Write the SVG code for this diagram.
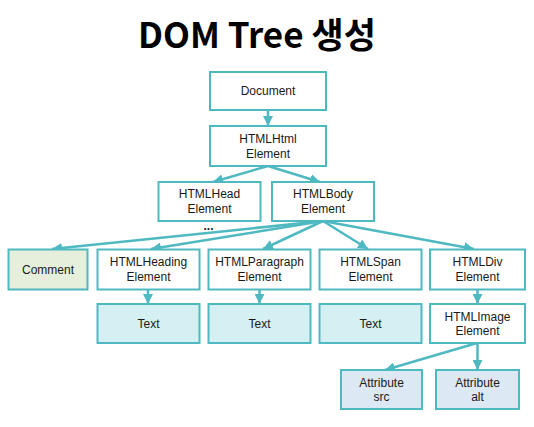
<svg xmlns="http://www.w3.org/2000/svg" width="534" height="427" viewBox="0 0 534 427">
<style>
.box{fill:#ffffff;stroke:#4fb9c1;stroke-width:2}
.cm{fill:#e6eedc}
.tx{fill:#d5f0f3}
.at{fill:#dde8f5}
.lbl{font-family:"Liberation Sans","Noto Sans CJK KR",sans-serif;font-size:12px;fill:#1a1a1a;text-anchor:middle}
.ttl{font-family:"Noto Sans CJK KR","Noto Sans",sans-serif;font-weight:bold;font-size:35px;fill:#000;text-anchor:middle}
.ln{stroke:#4fb9c1;stroke-width:2.5;fill:none;marker-end:url(#ah)}
</style>
<defs>
<marker id="ah" markerUnits="userSpaceOnUse" markerWidth="10" markerHeight="10" viewBox="0 0 10 10" refX="10" refY="5" orient="auto">
<path d="M0,0 L10,5 L0,10 z" fill="#4fb9c1"/>
</marker>
</defs>
<rect width="534" height="427" fill="#ffffff"/>
<text class="ttl" x="257" y="48">DOM Tree 생성</text>
<g id="connectors">
<line class="ln" x1="268" y1="110" x2="268" y2="126"/>
<line class="ln" x1="268" y1="166" x2="213" y2="182"/>
<line class="ln" x1="268" y1="166" x2="320" y2="182"/>
<line class="ln" x1="323" y1="221" x2="52" y2="249"/>
<line class="ln" x1="323" y1="221" x2="151" y2="249"/>
<line class="ln" x1="323" y1="221" x2="263" y2="249"/>
<line class="ln" x1="323" y1="221" x2="368" y2="249"/>
<line class="ln" x1="323" y1="221" x2="474" y2="249"/>
<line class="ln" x1="148" y1="289" x2="148" y2="304"/>
<line class="ln" x1="259.5" y1="289" x2="259.5" y2="304"/>
<line class="ln" x1="477.5" y1="289" x2="477.5" y2="304"/>
<line class="ln" x1="477" y1="343" x2="385" y2="370"/>
<line class="ln" x1="477.5" y1="343" x2="477.5" y2="370"/>
</g>
<g id="document"><rect class="box" x="210" y="72" width="116" height="38"/><text class="lbl" x="268" y="95">Document</text></g>
<g id="htmlhtml"><rect class="box" x="210" y="126" width="116" height="40"/><text class="lbl" x="268" y="143">HTMLHtml</text><text class="lbl" x="268" y="157.5">Element</text></g>
<g id="htmlhead"><rect class="box" x="158.5" y="182" width="102" height="39"/><text class="lbl" x="209.5" y="198">HTMLHead</text><text class="lbl" x="209.5" y="212.5">Element</text></g>
<text class="lbl" x="208.5" y="230" style="font-weight:bold">...</text>
<g id="htmlbody"><rect class="box" x="272" y="182" width="102" height="39"/><text class="lbl" x="323" y="198">HTMLBody</text><text class="lbl" x="323" y="212.5">Element</text></g>
<g id="comment"><rect class="box cm" x="8.5" y="249.5" width="79" height="40"/><text class="lbl" x="48" y="273.5">Comment</text></g>
<g id="heading"><rect class="box" x="97.5" y="249.5" width="102" height="40"/><text class="lbl" x="148.5" y="266">HTMLHeading</text><text class="lbl" x="148.5" y="280.5">Element</text></g>
<g id="paragraph"><rect class="box" x="208.5" y="249.5" width="102" height="40"/><text class="lbl" x="259.5" y="266">HTMLParagraph</text><text class="lbl" x="259.5" y="280.5">Element</text></g>
<g id="span"><rect class="box" x="319.5" y="249.5" width="102" height="40"/><text class="lbl" x="370.5" y="266">HTMLSpan</text><text class="lbl" x="370.5" y="280.5">Element</text></g>
<g id="div"><rect class="box" x="430" y="249.5" width="95" height="40"/><text class="lbl" x="477.5" y="266">HTMLDiv</text><text class="lbl" x="477.5" y="280.5">Element</text></g>
<g id="text1"><rect class="box tx" x="97.5" y="304" width="102" height="39"/><text class="lbl" x="148.5" y="327.5">Text</text></g>
<g id="text2"><rect class="box tx" x="208.5" y="304" width="102" height="39"/><text class="lbl" x="259.5" y="327.5">Text</text></g>
<g id="text3"><rect class="box tx" x="319.5" y="304" width="102" height="39"/><text class="lbl" x="370.5" y="327.5">Text</text></g>
<g id="image"><rect class="box" x="430" y="304" width="95" height="39"/><text class="lbl" x="477.5" y="320.5">HTMLImage</text><text class="lbl" x="477.5" y="335">Element</text></g>
<g id="attrsrc"><rect class="box at" x="341" y="370" width="81" height="39"/><text class="lbl" x="381.5" y="386.5">Attribute</text><text class="lbl" x="381.5" y="401">src</text></g>
<g id="attralt"><rect class="box at" x="436" y="370" width="83" height="39"/><text class="lbl" x="477.5" y="386.5">Attribute</text><text class="lbl" x="477.5" y="401">alt</text></g>
</svg>
